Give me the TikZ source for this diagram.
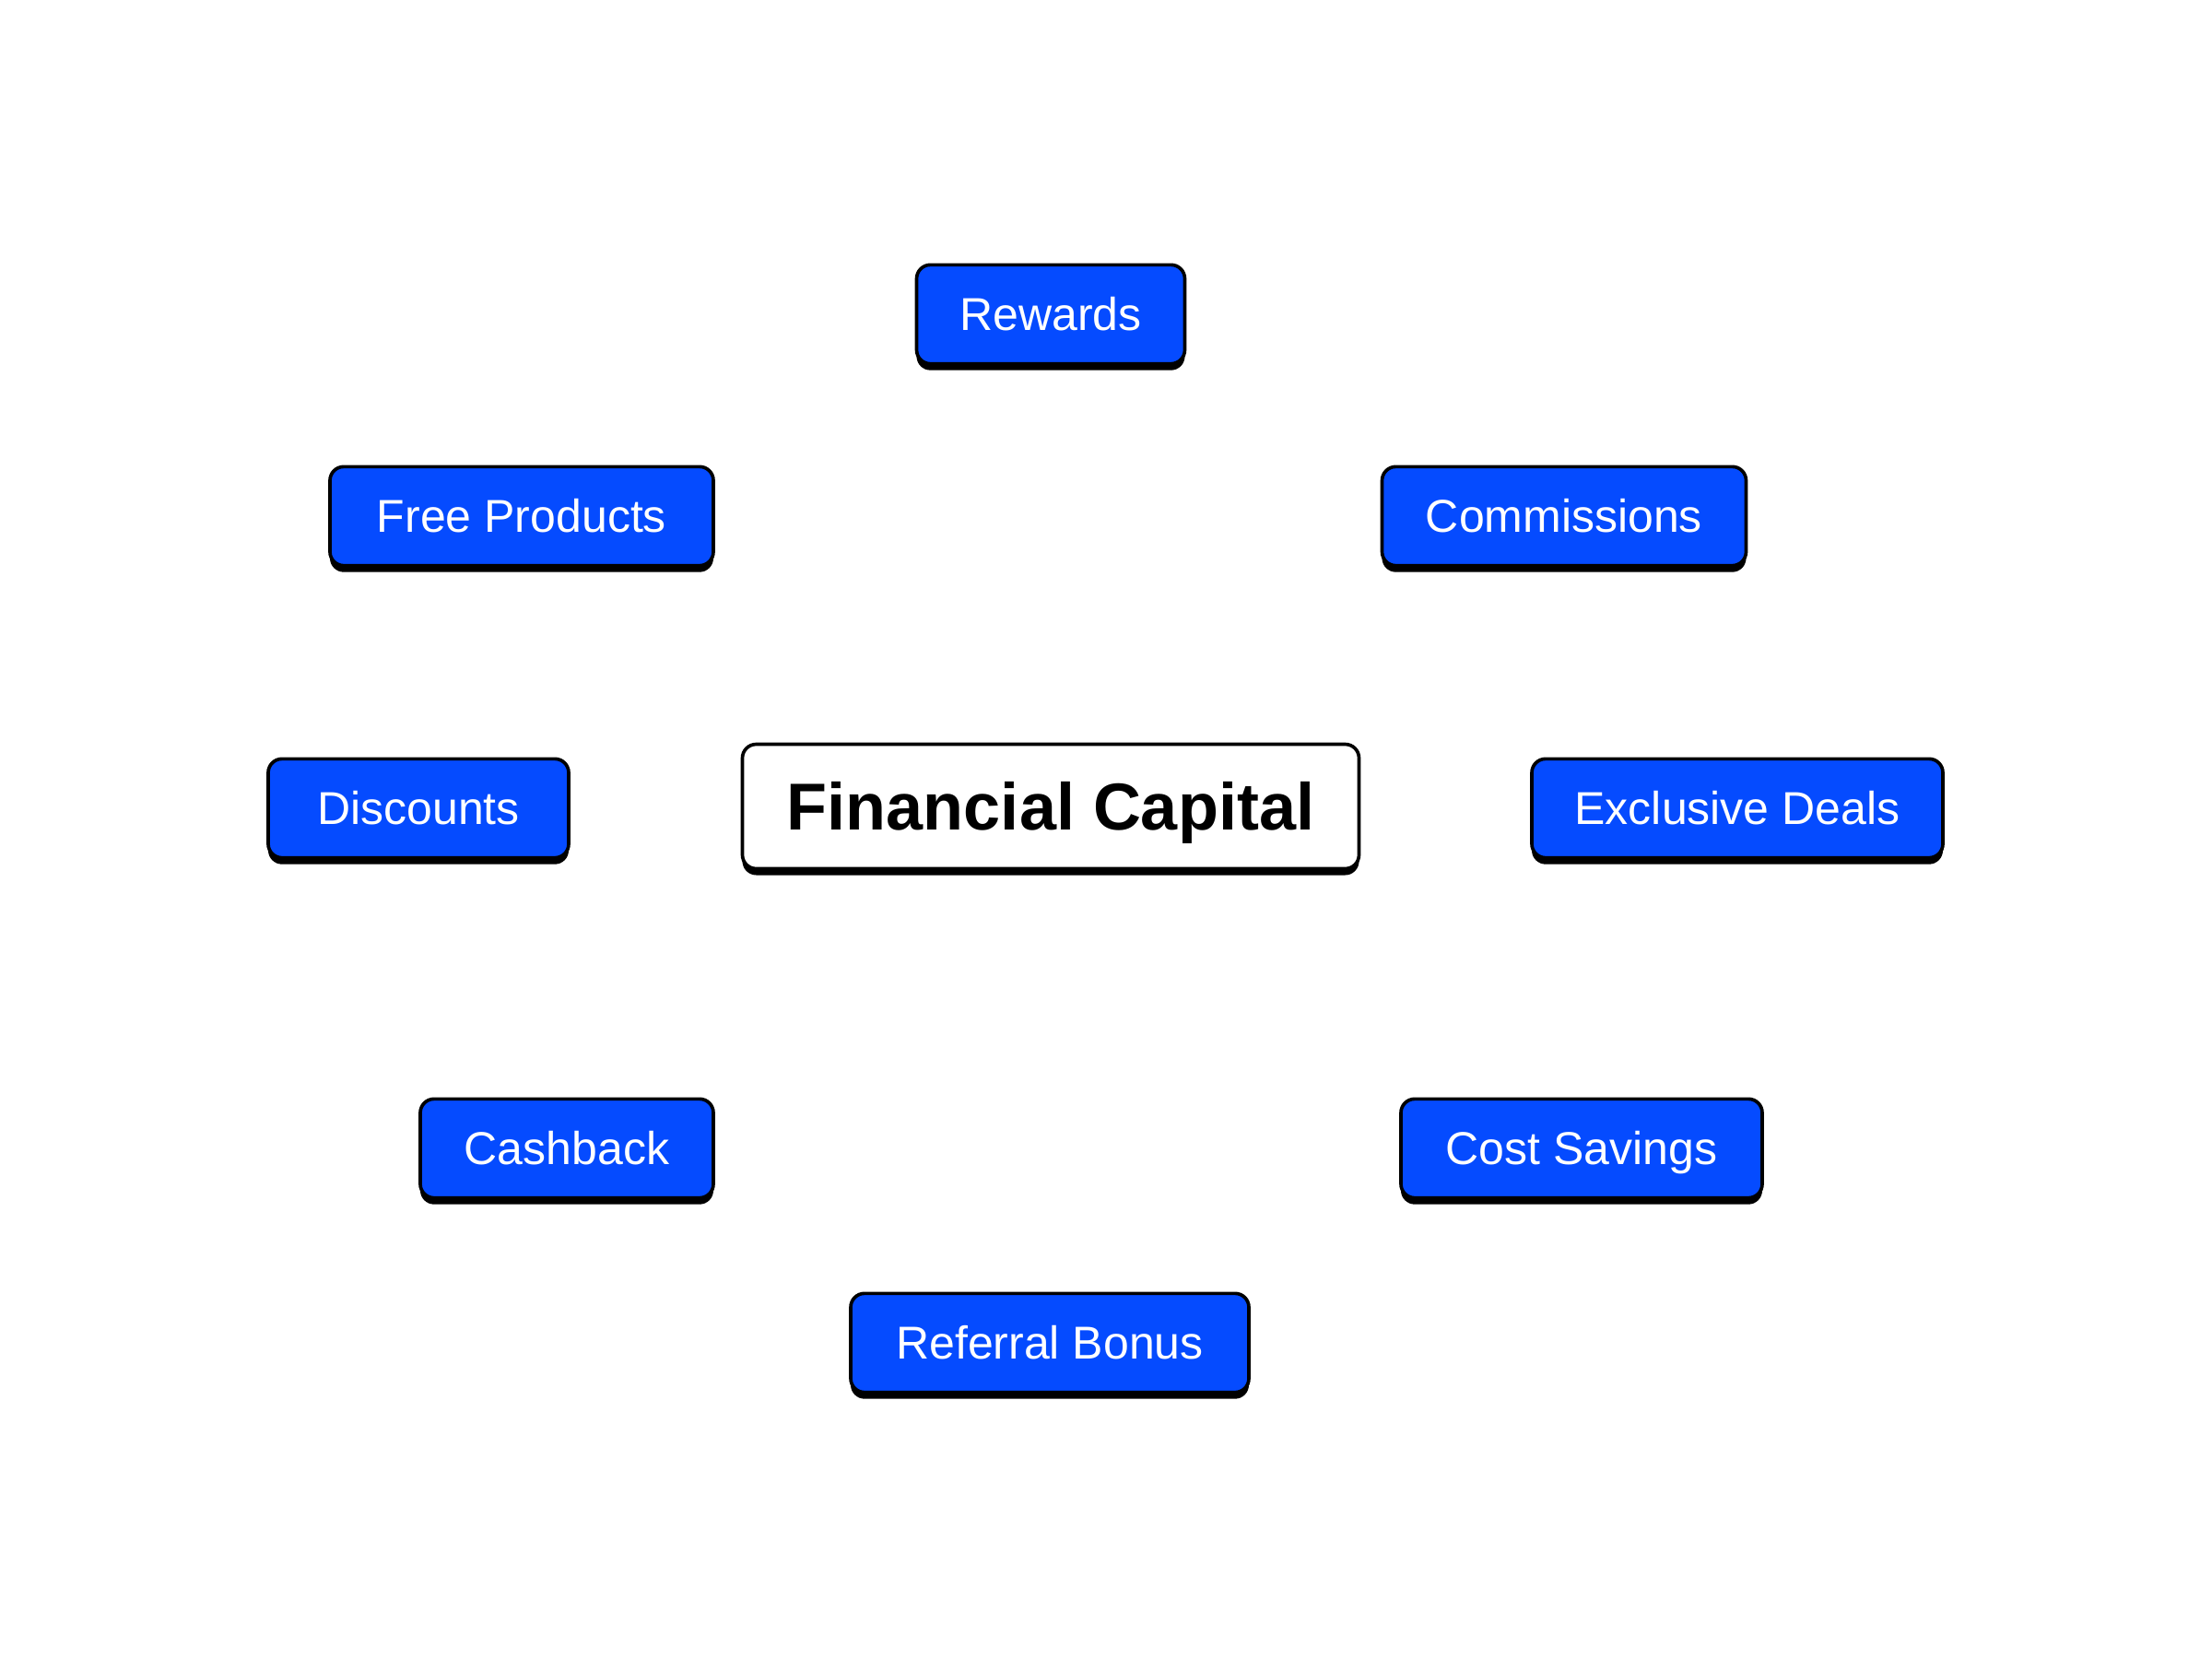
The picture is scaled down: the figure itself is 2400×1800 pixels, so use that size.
\documentclass[tikz,border=0pt]{standalone}
\usepackage{fontspec}
\setmainfont{Liberation Sans}
\usetikzlibrary{shadows}
\definecolor{boxblue}{RGB}{5,75,255}
\begin{document}
\begin{tikzpicture}[x=0.3pt,y=-0.3pt,
  base/.style={draw=black, line width=1.1pt, rounded corners=4.5pt, inner sep=0pt,
    text depth=0pt,
    drop shadow={shadow xshift=0pt, shadow yshift=-2.1pt, fill=black, opacity=1},
    minimum height=32.2pt},
  leaf/.style={base, fill=boxblue, text=white, text height=10.7pt, font=\fontsize{15}{18}\selectfont},
  hub/.style={base, fill=white, text=black, text height=15.5pt, font=\bfseries\fontsize{21.6}{26}\selectfont, minimum height=40.5pt}]
\fill[white] (0,0) rectangle (2400,1800);
\useasboundingbox (0,0) rectangle (2400,1800);
\node[hub, minimum width=200.7pt] (fc) at (1140,875) {Financial Capital};
\node[leaf, minimum width=87.3pt] (rew) at (1140,341) {Rewards};
\node[leaf, minimum width=124.8pt] (free) at (566,560) {Free Products};
\node[leaf, minimum width=118.5pt] (com) at (1697,560) {Commissions};
\node[leaf, minimum width=97.8pt] (dis) at (454,877) {Discounts};
\node[leaf, minimum width=133.8pt] (exc) at (1885,877) {Exclusive Deals};
\node[leaf, minimum width=95.4pt] (cash) at (615,1246) {Cashback};
\node[leaf, minimum width=117.6pt] (cost) at (1716,1246) {Cost Savings};
\node[leaf, minimum width=129.6pt] (ref) at (1139,1457) {Referral Bonus};
\end{tikzpicture}
\end{document}
